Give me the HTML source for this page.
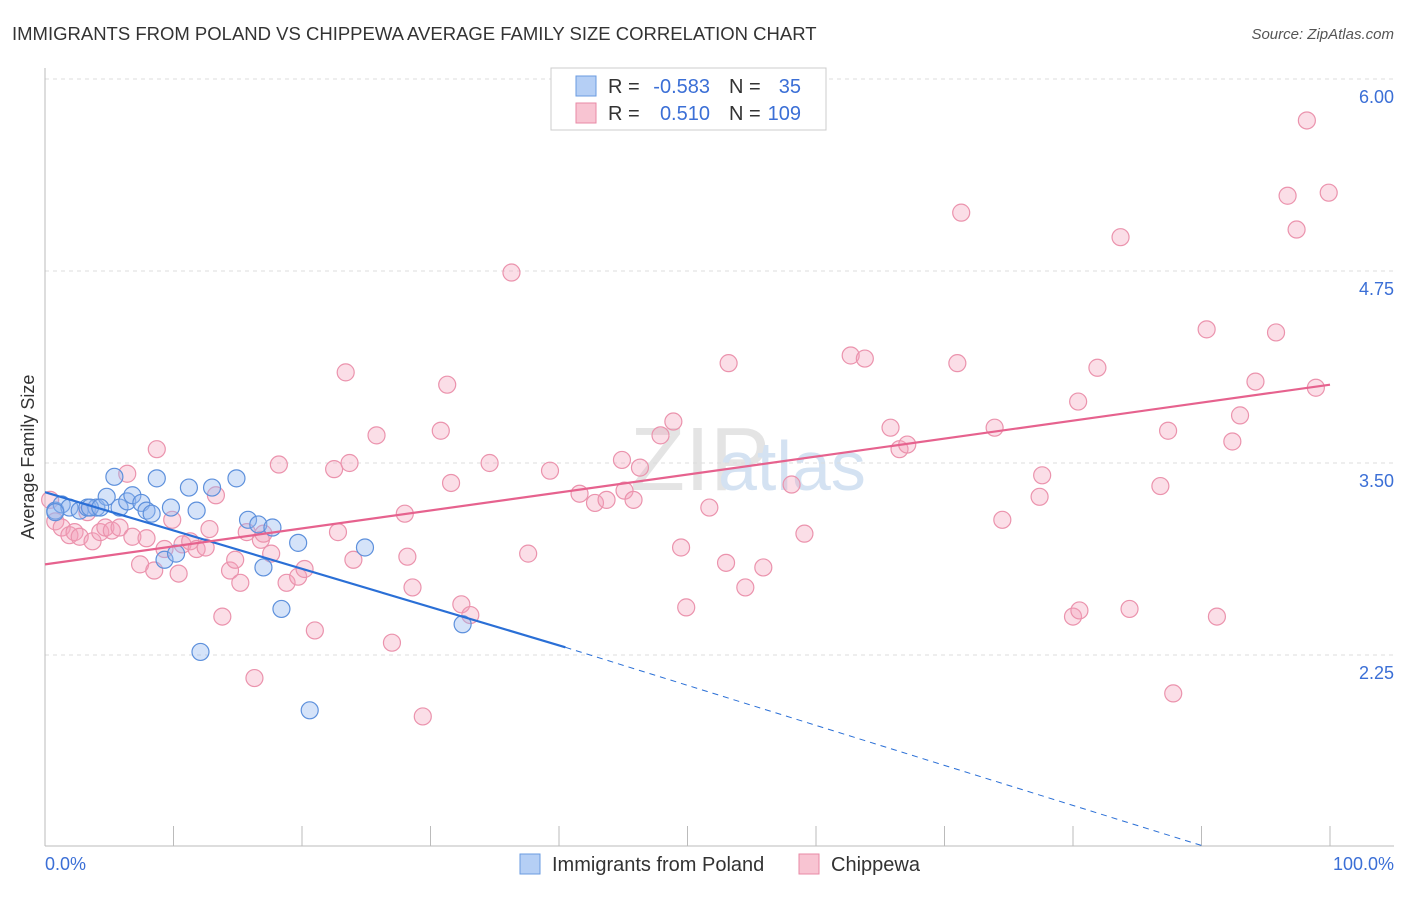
<!DOCTYPE html>
<html><head><meta charset="utf-8"><style>
body{margin:0;background:#fff;font-family:"Liberation Sans",sans-serif;}
svg text{font-family:"Liberation Sans",sans-serif;}
</style></head><body>
<svg id="c" width="1406" height="892">
<text x="12" y="40" font-size="18.5" fill="#333">IMMIGRANTS FROM POLAND VS CHIPPEWA AVERAGE FAMILY SIZE CORRELATION CHART</text>
<text x="1394" y="39" font-size="15" fill="#555" font-style="italic" text-anchor="end">Source: ZipAtlas.com</text>
<text x="630" y="490" font-size="90" fill="#e4e4e4" font-family="Liberation Serif">ZIP</text>
<text x="718" y="490" font-size="70" fill="#d4e2f2">atlas</text>
<g id="grid"></g><g id="axes"></g><g id="pts"></g><g id="lines"></g>
<text transform="translate(34,457) rotate(-90)" font-size="18" fill="#333" text-anchor="middle">Average Family Size</text>
<text x="45" y="870" font-size="18" fill="#3b6fd6">0.0%</text>
<text x="1394" y="870" font-size="18" fill="#3b6fd6" text-anchor="end">100.0%</text>
<g>
<rect x="551" y="68" width="275" height="62" fill="#fff" stroke="#ccc"/>
<rect x="576" y="76" width="20" height="20" fill="#b5cff5" stroke="#6a9be0"/>
<rect x="576" y="103" width="20" height="20" fill="#f8c4d2" stroke="#e88aa6"/>
<text x="608" y="93" font-size="20" fill="#333">R =</text>
<text x="710" y="93" font-size="20" fill="#3b6fd6" text-anchor="end">-0.583</text>
<text x="729" y="93" font-size="20" fill="#333">N =</text>
<text x="801" y="93" font-size="20" fill="#3b6fd6" text-anchor="end">35</text>
<text x="608" y="120" font-size="20" fill="#333">R =</text>
<text x="710" y="120" font-size="20" fill="#3b6fd6" text-anchor="end">0.510</text>
<text x="729" y="120" font-size="20" fill="#333">N =</text>
<text x="801" y="120" font-size="20" fill="#3b6fd6" text-anchor="end">109</text>
</g>
<g>
<rect x="520" y="854" width="20" height="20" fill="#b5cff5" stroke="#6a9be0"/>
<text x="552" y="871" font-size="20" fill="#333">Immigrants from Poland</text>
<rect x="799" y="854" width="20" height="20" fill="#f8c4d2" stroke="#e88aa6"/>
<text x="831" y="871" font-size="20" fill="#333">Chippewa</text>
</g>
</svg>
<script>
const yTicks=[2.25,3.50,4.75,6.00];
const xTickVals=[0,10,20,30,40,50,60,70,80,90,100];
const blueX=[0.8,1.3,1.9,2.7,3.3,4.0,4.8,5.4,5.8,6.4,6.8,7.5,7.9,8.3,8.7,9.3,9.8,10.2,11.2,11.8,13.0,12.1,14.9,15.8,16.6,17.0,17.7,18.4,19.7,20.6,24.9,32.5,0.8,3.5,4.3];
const blueY=[3.19,3.23,3.21,3.19,3.21,3.21,3.28,3.41,3.21,3.25,3.29,3.24,3.19,3.17,3.40,2.87,3.21,2.91,3.34,3.19,3.34,2.27,3.40,3.13,3.10,2.82,3.08,2.55,2.98,1.89,2.95,2.45,3.18,3.21,3.21];
const pinkX=[0.4,0.8,1.3,1.9,2.3,2.7,3.3,3.7,4.3,4.7,5.2,5.8,6.4,6.8,7.4,7.9,8.5,8.7,9.3,9.9,10.4,10.7,11.3,11.8,12.5,12.8,13.3,13.8,14.4,14.8,15.2,15.7,16.3,16.8,17.0,17.6,18.2,18.8,19.7,20.2,21.0,22.5,22.8,23.4,23.7,24.0,25.8,27.0,28.0,28.2,28.6,29.4,30.8,31.3,31.6,32.4,33.1,34.6,36.3,37.6,39.3,41.6,42.8,43.7,44.9,45.1,45.8,46.3,47.9,48.9,49.5,49.9,51.7,53.0,53.2,54.5,55.9,58.1,59.1,62.7,63.8,65.8,66.5,67.1,71.3,71.0,73.9,74.5,77.4,77.6,80.0,80.5,80.4,81.9,83.7,84.4,86.8,87.4,87.8,90.4,91.2,92.4,93.0,94.2,95.8,96.7,97.4,98.2,98.9,99.9];
const pinkY=[3.26,3.12,3.08,3.03,3.05,3.02,3.18,2.99,3.05,3.08,3.06,3.08,3.43,3.02,2.84,3.01,2.80,3.59,2.94,3.13,2.78,2.97,2.99,2.94,2.95,3.07,3.29,2.50,2.80,2.87,2.72,3.05,2.10,3.00,3.04,2.91,3.49,2.72,2.76,2.81,2.41,3.46,3.05,4.09,3.50,2.87,3.68,2.33,3.17,2.89,2.69,1.85,3.71,4.01,3.37,2.58,2.51,3.50,4.74,2.91,3.45,3.30,3.24,3.26,3.52,3.32,3.26,3.47,3.68,3.77,2.95,2.56,3.21,2.85,4.15,2.69,2.82,3.36,3.04,4.20,4.18,3.73,3.59,3.62,5.13,4.15,3.73,3.13,3.28,3.42,2.50,2.54,3.90,4.12,4.97,2.55,3.35,3.71,2.00,4.37,2.50,3.64,3.81,4.03,4.35,5.24,5.02,5.73,3.99,5.26];
const blueLine=[0,3.31,40.5,2.30,90,1.01];
const pinkLine=[0,2.84,100,4.01];
const NS='http://www.w3.org/2000/svg';
function xs(v){return 45+v*12.85;}
function ys(v){return 847-(v-1)*153.6;}
function mk(par,tag,at){const e=document.createElementNS(NS,tag);for(const k in at)e.setAttribute(k,at[k]);document.getElementById(par).appendChild(e);return e;}
yTicks.forEach(t=>{
 const g=mk('grid','line',{x1:45,x2:1394,y1:ys(t),y2:ys(t),stroke:'#ddd','stroke-dasharray':'4,4'});
 
 
 const l=mk('grid','text',{x:1394,y:ys(t)+24,'font-size':18,fill:'#3b6fd6','text-anchor':'end'});
 l.textContent=t.toFixed(2);
 
 
});
const ax=mk('axes','line',{x1:45,x2:1394,y1:846,y2:846,stroke:'#bbb'});


const ay=mk('axes','line',{x1:45,x2:45,y1:68,y2:846,stroke:'#bbb'});


xTickVals.forEach(t=>{
 const k=mk('axes','line',{x1:xs(t),x2:xs(t),y1:826,y2:846,stroke:'#bbb'});
 
 
});
pinkX.forEach((x,i)=>{
 const c=mk('pts','circle',{cx:xs(x),cy:ys(pinkY[i]),r:8.5,fill:'rgba(244,160,185,0.35)',stroke:'#eb93ad','stroke-width':1.2});
 
 
});
blueX.forEach((x,i)=>{
 const c=mk('pts','circle',{cx:xs(x),cy:ys(blueY[i]),r:8.5,fill:'rgba(150,185,240,0.4)',stroke:'#5d90dc','stroke-width':1.2});
 
 
});
const b1=mk('lines','line',{x1:xs(blueLine[0]),y1:ys(blueLine[1]),x2:xs(blueLine[2]),y2:ys(blueLine[3]),stroke:'#2a6fd6','stroke-width':2.2});


const b2=mk('lines','line',{x1:xs(blueLine[2]),y1:ys(blueLine[3]),x2:xs(blueLine[4]),y2:ys(blueLine[5]),stroke:'#2a6fd6','stroke-width':1,'stroke-dasharray':'6,5'});


const p1=mk('lines','line',{x1:xs(pinkLine[0]),y1:ys(pinkLine[1]),x2:xs(pinkLine[2]),y2:ys(pinkLine[3]),stroke:'#e6628e','stroke-width':2.2});


</script>
</body></html>
